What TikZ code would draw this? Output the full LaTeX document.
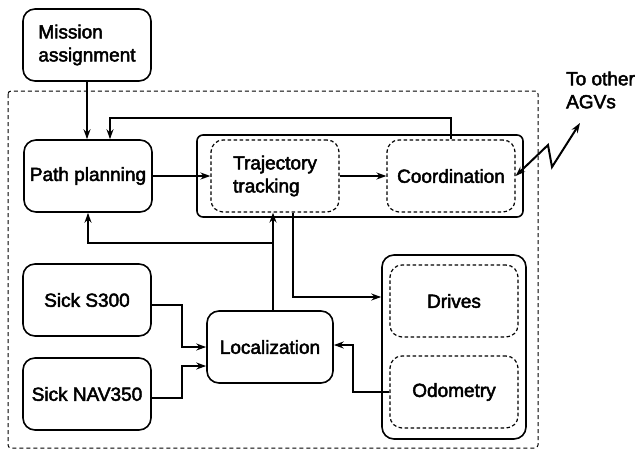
\documentclass[tikz,border=0pt]{standalone}
\usepackage{fontspec}
\setmainfont{Liberation Sans}[FakeBold=2.5]
\usetikzlibrary{arrows.meta,calc}
\begin{document}
\begin{tikzpicture}[x=1pt,y=-1pt,
  every node/.style={font=\fontsize{19}{23}\selectfont, inner sep=0pt, align=center},
  blk/.style={draw, line width=1.6pt, rounded corners=12pt},
  dblk/.style={draw, line width=1.2pt, dash pattern=on 3.5pt off 2.5pt, rounded corners=12pt},
  arr/.style={line width=2pt, -{Stealth[length=10pt,width=7pt]}},
  ln/.style={line width=2pt}]
\useasboundingbox (0,0) rectangle (640,450);
% outer dashed frame
\draw[line width=1pt, dash pattern=on 4pt off 3pt, rounded corners=3pt] (8,91) rectangle (538,448);
% nodes
\node[blk, minimum width=128pt, minimum height=72pt, align=left] (mission) at (87,45) {Mission\\assignment};
\node[blk, minimum width=128pt, minimum height=72pt] (path) at (88,176) {Path planning};
\node[blk, rounded corners=6pt, minimum width=326pt, minimum height=82pt] (trajbox) at (360,176) {};
\node[dblk, minimum width=128pt, minimum height=72pt, align=left] (traj) at (275,176) {Trajectory\\tracking};
\node[dblk, minimum width=128pt, minimum height=72pt] (coord) at (451,176) {Coordination};
\node[blk, minimum width=128pt, minimum height=72pt] (s300) at (87,300) {Sick S300};
\node[blk, minimum width=128pt, minimum height=72pt] (nav) at (87,394) {Sick NAV350};
\node[blk, minimum width=126pt, minimum height=72pt] (loc) at (270,347) {Localization};
\node[blk, minimum width=144pt, minimum height=184pt] (rightbox) at (454,347) {};
\node[dblk, minimum width=128pt, minimum height=72pt] (drives) at (454,301) {Drives};
\node[dblk, minimum width=128pt, minimum height=72pt] (odo) at (454,392) {Odometry};
\node[anchor=west, align=left] (agvtxt) at (566,90) {To other\\AGVs};
\coordinate (agv) at (580,123);
% connectors
\draw[arr] (mission.south) -- (mission.south |- path.north);
\draw[arr] (coord.north) -- ++(0,-21) -| ([xshift=22pt]path.north);
\draw[arr] (path.east) -- (traj.west);
\draw[arr] (traj.east) -- (coord.west);
\draw[line width=2pt, {Stealth[length=10pt,width=7pt]}-{Stealth[length=10pt,width=7pt]}] (coord.east) -- (548,145) -- (552,167) -- (agv);
\draw[arr] ([xshift=3pt]loc.north) -- ([xshift=3pt]loc.north |- traj.south);
\draw[arr] ([xshift=3pt]loc.north |- 0,243) -| (path.south);
\draw[arr] ([xshift=18pt]traj.south) |- ([yshift=4pt]rightbox.west |- drives.west);
\draw[arr] ([yshift=-5pt]s300.east) -- ++(30,0) |- (loc.west);
\draw[arr] ([yshift=-4pt]nav.east) -- ++(30,0) |- ([yshift=-19pt]loc.west);
\draw[arr] (odo.west) -- ++(-36,0) |- ([yshift=2pt]loc.east);
\end{tikzpicture}
\end{document}
